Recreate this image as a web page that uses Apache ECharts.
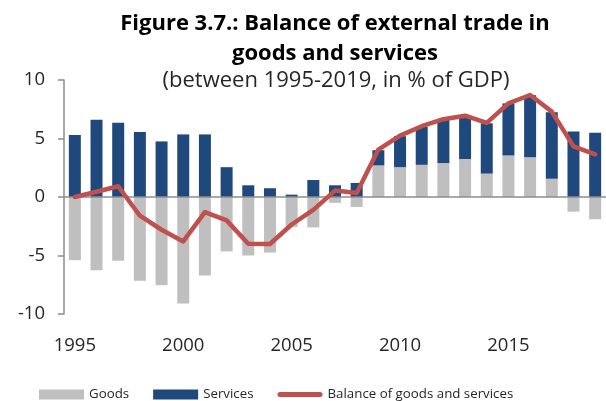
<!DOCTYPE html>
<html>
<head>
<meta charset="utf-8">
<script src="https://cdn.jsdelivr.net/npm/echarts@6/dist/echarts.min.js"></script>
<style>
  html, body { margin: 0; padding: 0; background: #fff; }
  #chart { width: 606px; height: 401px; }
</style>
</head>
<body>
<div id="chart"></div>
<script>
// Years on the category axis
const years = ['1995','1996','1997','1998','1999','2000','2001','2002','2003','2004',
  '2005','2006','2007','2008','2009','2010','2011','2012','2013','2014',
  '2015','2016','2017','2018','2019'];

// Balance of goods, % of GDP
const goods = [-5.4, -6.25, -5.45, -7.15, -7.55, -9.1, -6.7, -4.65, -5.0, -4.75,
  -2.55, -2.6, -0.5, -0.85, 2.7, 2.55, 2.75, 2.9, 3.25, 2.0,
  3.55, 3.4, 1.55, -1.25, -1.9];

// Balance of services, % of GDP
const services = [5.3, 6.6, 6.35, 5.55, 4.75, 5.35, 5.35, 2.55, 1.0, 0.75,
  0.2, 1.45, 1.0, 1.2, 1.3, 2.65, 3.25, 3.7, 3.6, 4.3,
  4.45, 5.3, 5.7, 5.6, 5.5];

// Balance of goods and services, % of GDP
const balance = [0.0, 0.45, 0.92, -1.6, -2.8, -3.8, -1.3, -2.0, -4.0, -4.02,
  -2.35, -1.1, 0.55, 0.35, 4.05, 5.25, 6.05, 6.65, 6.95, 6.33,
  8.0, 8.72, 7.3, 4.33, 3.65];

const yTicks = { min: -10, max: 10, interval: 5 };

const font = '"Open Sans", "Noto Sans", sans-serif';
const textColor = '#262626';
const axisGray = '#8c8c8c';
const lineRed = '#c0504d';

const chart = echarts.init(document.getElementById('chart'), null, { renderer: 'canvas' });

chart.setOption({
  backgroundColor: '#ffffff',
  animation: false,
  title: [
    {
      text: 'Figure 3.7.: Balance of external trade in\ngoods and services',
      left: 330, top: 4, textAlign: 'center',
      textStyle: { fontFamily: font, fontSize: 22, fontWeight: 'bold', color: '#000', lineHeight: 30 }
    },
    {
      text: '(between 1995-2019, in % of GDP)',
      left: 331, top: 65, textAlign: 'center',
      textStyle: { fontFamily: font, fontSize: 22, fontWeight: 'normal', color: textColor }
    }
  ],
  legend: {
    bottom: 0, left: 39, padding: 0,
    itemWidth: 45, itemHeight: 10, itemGap: 24,
    textStyle: { fontFamily: font, fontSize: 13.3, color: textColor },
    data: [
      { name: 'Goods', icon: 'rect' },
      { name: 'Services', icon: 'rect' },
      {
        name: 'Balance of goods and services',
        icon: 'path://M2.5,0 L42.5,0 A2.5,2.5 0 0 1 42.5,5 L2.5,5 A2.5,2.5 0 0 1 2.5,0 Z',
        itemStyle: { color: lineRed }
      }
    ]
  },
  grid: { left: 64, right: -2, top: 80, bottom: 87, containLabel: false },
  xAxis: {
    type: 'category',
    data: years,
    position: 'bottom',
    axisLine: { show: false, onZero: false },
    axisTick: { show: false },
    axisLabel: { interval: 4, margin: 22, fontFamily: font, fontSize: 18.5, color: textColor }
  },
  yAxis: {
    type: 'value',
    min: yTicks.min, max: yTicks.max, interval: yTicks.interval,
    axisLine: { show: true, lineStyle: { color: axisGray, width: 1.5 } },
    axisTick: { show: true, length: 6, lineStyle: { color: axisGray, width: 1.5 } },
    splitLine: { show: false },
    axisLabel: { margin: 19, fontFamily: font, fontSize: 18.5, color: textColor }
  },
  series: [
    {
      name: 'Goods', type: 'bar', stack: 'trade', barWidth: 12,
      itemStyle: { color: '#bfbfbf' },
      data: goods,
      markLine: {
        silent: true, symbol: 'none', label: { show: false },
        lineStyle: { color: axisGray, width: 1.5, type: 'solid' },
        data: [{ yAxis: 0 }]
      }
    },
    {
      name: 'Services', type: 'bar', stack: 'trade', barWidth: 12,
      itemStyle: { color: '#1f497d' },
      data: services
    },
    {
      name: 'Balance of goods and services', type: 'line', z: 5,
      symbol: 'none', smooth: false,
      lineStyle: { color: lineRed, width: 4.5, cap: 'round', join: 'round' },
      itemStyle: { color: lineRed },
      data: balance
    }
  ]
});
</script>
</body>
</html>
